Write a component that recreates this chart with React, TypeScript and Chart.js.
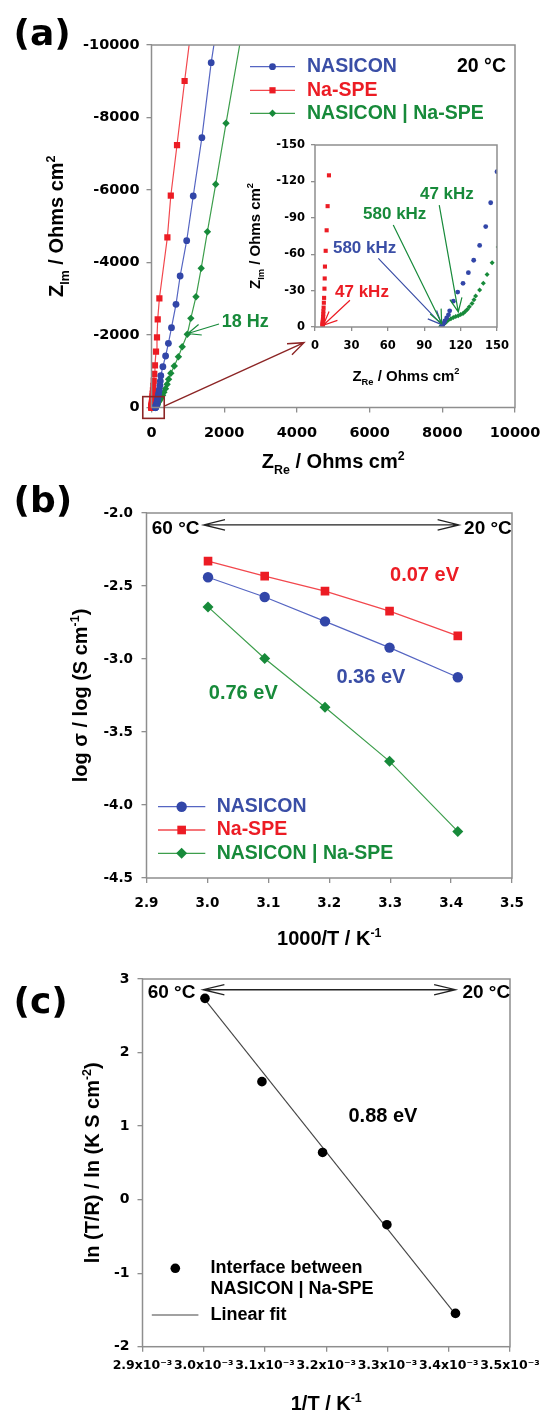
import React, { useEffect, useRef } from 'react';
import { Chart, registerables } from 'chart.js';

Chart.register(...registerables);

const SANS = '"Liberation Sans", Arial, Helvetica, sans-serif';
const TICK_FONT = '"DejaVu Sans", "Liberation Sans", sans-serif';
const FRAME = '#8e8e8e';
const BLUE = '#3246a8';
const BLUE_LINE = '#5565c2';
const BLUE_TEXT = '#3a4ea6';
const RED = '#ec1c24';
const RED_LINE = '#f2474d';
const GREEN = '#178a3a';
const GREEN_LINE = '#3d9e4c';
const DARK_RED = '#8c2525';

// ================= DATA =================
// (a) Nyquist plot at 20 °C  (Z_Re, Z_Im in Ohms cm2)
const naSpeRe = [6.3, 6.3, 6.3, 6.3, 6.4, 6.4, 6.5, 6.6, 6.7, 6.8, 6.9, 7.1, 7.3, 7.5, 7.8, 8.0, 8.2, 8.8, 9.6, 10.4, 11.5, 14, 17, 21, 26, 32, 40, 49, 61, 76, 95, 124, 151, 171, 217, 437, 531, 702, 911, 1190];
const naSpeIm = [-0.6, -1.2, -1.9, -2.6, -3.4, -4.3, -5.4, -6.8, -8.5, -10.5, -13, -16, -20, -24, -31.6, -40, -49.8, -62.8, -79.7, -99.6, -125, -156, -195, -244, -305, -381, -476, -595, -744, -930, -1163, -1540, -1936, -2433, -3012, -4695, -5843, -7241, -9007, -11250];

const nasiconRe = [104.5, 105, 106, 107, 108.5, 110, 111, 114, 117.6, 122, 126.4, 130.8, 135.7, 140.7, 144.8, 150, 156, 163, 172, 183, 196, 212, 232, 243, 256, 313, 388, 465, 550, 674, 788, 968, 1148, 1386, 1642, 1870];
const nasiconIm = [-0.5, -1.5, -3, -5, -7.5, -10, -13.3, -21.3, -28.8, -36, -44.8, -55, -67.2, -82.8, -102.4, -128, -160, -200, -250, -312, -390, -488, -610, -730, -877, -1126, -1421, -1771, -2202, -2847, -3628, -4601, -5834, -7443, -9512, -11000];

const interfaceRe = [103.5, 104.5, 106, 107.5, 108.5, 110, 112, 114, 116, 118, 120, 122, 123.6, 125.5, 127.2, 129.4, 131, 132.4, 135.7, 138.7, 141.8, 146, 151, 157, 165, 180, 205, 235, 270, 305, 340, 385, 430, 470, 531, 627, 740, 845, 985, 1082, 1224, 1367, 1538, 1766, 2050, 2600];
const interfaceIm = [-0.5, -1.5, -2.5, -3.5, -4.8, -5.8, -6.8, -7.8, -8.6, -9.3, -10.2, -11.2, -12.5, -14.5, -16.6, -19.4, -22.4, -25.5, -30.5, -36, -43.2, -52.9, -66, -82, -105, -135, -170, -215, -270, -340, -420, -520, -640, -780, -943, -1145, -1401, -1677, -2020, -2460, -3057, -3840, -4850, -6157, -7840, -11000];

// (b) Arrhenius plot
const invT1000 = [3.001, 3.094, 3.193, 3.299, 3.411];
const logNasicon = [-2.44, -2.575, -2.742, -2.922, -3.125];
const logNaSpe = [-2.33, -2.432, -2.535, -2.672, -2.842];
const logInterface = [-2.643, -2.997, -3.331, -3.701, -4.181];

// (c) interface
const invT = [3.002e-3, 3.095e-3, 3.194e-3, 3.299e-3, 3.411e-3];
const lnTR = [2.737, 1.604, 0.641, -0.341, -1.547];
const fitInvT = [3.002e-3, 3.411e-3];
const fitLnTR = [2.72, -1.56];

// Annotations (data coordinates)
const zoomBox = { re: [-240, 350], im: [-300, 300] };
const zoomArrow = { from: [352, -41], to: [4195, -1788] };
const hz18 = { text: '18 Hz', at: [1931, -2367], from: [1857, -2303], to: [1000, -2040] };
const insetNotes = [
  { text: '47 kHz', color: RED, at: [16.5, -29], from: [28.8, -22], to: [6.8, -1.4] },
  { text: '580 kHz', color: BLUE_TEXT, at: [14.8, -65], from: [52.2, -56.5], to: [104.4, -2] },
  { text: '580 kHz', color: GREEN, at: [39.6, -93], from: [64.5, -84], to: [104.4, -2.8] },
  { text: '47 kHz', color: GREEN, at: [86.5, -109.6], from: [102.4, -100.5], to: [118.1, -12.4] },
];
const notesB = [
  { text: '0.07 eV', color: RED, at: [3.2998, -2.425] },
  { text: '0.36 eV', color: BLUE_TEXT, at: [3.2118, -3.125] },
  { text: '0.76 eV', color: GREEN, at: [3.0023, -3.237] },
];
const tempB = { left: [2.9087, -2.105], right: [3.4213, -2.105], a0: [2.9938, -2.082], a1: [3.413, -2.082] };
const tempC = { left: [2.9085e-3, 2.818], right: [3.4223e-3, 2.818], a0: [2.9988e-3, 2.854], a1: [3.411e-3, 2.854] };
const noteC = { text: '0.88 eV', at: [3.2363e-3, 1.127] };

// ================= HELPERS =================
const pts = (xs: number[], ys: number[]) => xs.map((x, i) => ({ x, y: ys[i] }));

function axisX(min: number, max: number, step: number, size: number, pad: number, h: number, cb: (v: number) => string, tickLen = 5) {
  return {
    type: 'linear', position: 'bottom', min, max,
    ticks: { stepSize: step, autoSkip: false, maxRotation: 0, minRotation: 0, padding: pad, color: '#000', font: { family: TICK_FONT, size, weight: 'bold' }, callback: (v: any) => cb(Number(v)) },
    grid: { display: true, drawOnChartArea: false, drawTicks: true, tickLength: tickLen, color: FRAME, lineWidth: 1.3 },
    border: { display: false },
    title: { display: false },
    afterFit: (s: any) => { s.height = h; s.paddingLeft = 0; s.paddingRight = 0; s.paddingTop = 0; s.paddingBottom = 0; },
  };
}
function axisY(min: number, max: number, step: number, size: number, pad: number, w: number, cb: (v: number) => string, reverse = false, tickLen = 5) {
  return {
    type: 'linear', position: 'left', min, max, reverse,
    ticks: { stepSize: step, autoSkip: false, padding: pad, color: '#000', font: { family: TICK_FONT, size, weight: 'bold' }, callback: (v: any) => cb(Number(v)) },
    grid: { display: true, drawOnChartArea: false, drawTicks: true, tickLength: tickLen, color: FRAME, lineWidth: 1.3 },
    border: { display: false },
    title: { display: false },
    afterFit: (s: any) => { s.width = w; s.paddingLeft = 0; s.paddingRight = 0; s.paddingTop = 0; s.paddingBottom = 0; },
  };
}

function frame(ctx: any, a: any) {
  ctx.save();
  ctx.strokeStyle = FRAME;
  ctx.lineWidth = 1.5;
  ctx.strokeRect(a.left, a.top, a.right - a.left, a.bottom - a.top);
  ctx.restore();
}
function txt(ctx: any, s: string, x: number, y: number, size: number, color: string, align = 'left') {
  ctx.save();
  ctx.font = `bold ${size}px ${SANS}`;
  ctx.fillStyle = color;
  ctx.textAlign = align;
  ctx.textBaseline = 'middle';
  ctx.fillText(s, x, y);
  ctx.restore();
}
function panelLabel(ctx: any, s: string, x: number, baseline: number) {
  ctx.save();
  ctx.font = `bold 36px ${TICK_FONT}`;
  ctx.fillStyle = '#000';
  ctx.textAlign = 'left';
  ctx.textBaseline = 'alphabetic';
  ctx.fillText(s, x, baseline);
  ctx.restore();
}
type Seg = [string, number];
function richText(ctx: any, segs: Seg[], x: number, y: number, size: number, rotate = false) {
  ctx.save();
  ctx.fillStyle = '#000';
  ctx.textAlign = 'left';
  ctx.textBaseline = 'alphabetic';
  const fN = `bold ${size}px ${SANS}`;
  const fS = `bold ${size * 0.62}px ${SANS}`;
  let w = 0;
  for (const [t, k] of segs) { ctx.font = k ? fS : fN; w += ctx.measureText(t).width; }
  ctx.translate(x, y);
  if (rotate) ctx.rotate(-Math.PI / 2);
  let cx = -w / 2;
  for (const [t, k] of segs) {
    ctx.font = k ? fS : fN;
    const dy = k === -1 ? size * 0.28 : k === 1 ? -size * 0.42 : 0;
    ctx.fillText(t, cx, dy);
    cx += ctx.measureText(t).width;
  }
  ctx.restore();
}
function arrow(ctx: any, x1: number, y1: number, x2: number, y2: number, head: number, ang: number, color: string, lw: number, both = false) {
  ctx.save();
  ctx.strokeStyle = color;
  ctx.lineWidth = lw;
  ctx.beginPath();
  ctx.moveTo(x1, y1);
  ctx.lineTo(x2, y2);
  const hd = (tx: number, ty: number, fx: number, fy: number) => {
    const a = Math.atan2(ty - fy, tx - fx);
    ctx.moveTo(tx - head * Math.cos(a - ang), ty - head * Math.sin(a - ang));
    ctx.lineTo(tx, ty);
    ctx.lineTo(tx - head * Math.cos(a + ang), ty - head * Math.sin(a + ang));
  };
  hd(x2, y2, x1, y1);
  if (both) hd(x1, y1, x2, y2);
  ctx.stroke();
  ctx.restore();
}
function marker(ctx: any, style: string, x: number, y: number, r: number, color: string) {
  ctx.save();
  ctx.fillStyle = color;
  ctx.beginPath();
  if (style === 'circle') ctx.arc(x, y, r, 0, Math.PI * 2);
  else if (style === 'rect') { const s = r * Math.SQRT1_2; ctx.rect(x - s, y - s, 2 * s, 2 * s); }
  else { ctx.moveTo(x - r, y); ctx.lineTo(x, y - r); ctx.lineTo(x + r, y); ctx.lineTo(x, y + r); ctx.closePath(); }
  ctx.fill();
  ctx.restore();
}
function legendRow(ctx: any, x0: number, x1: number, y: number, line: string, style: string, r: number, color: string, label: string, tx: number, textColor: string, size: number) {
  ctx.save();
  ctx.strokeStyle = line;
  ctx.lineWidth = 1.3;
  ctx.beginPath();
  ctx.moveTo(x0, y);
  ctx.lineTo(x1, y);
  ctx.stroke();
  ctx.restore();
  marker(ctx, style, (x0 + x1) / 2, y, r, color);
  txt(ctx, label, tx, y, size, textColor);
}

const baseOpts = (padding: any) => ({
  responsive: false,
  animation: false,
  events: [],
  layout: { padding },
  plugins: { legend: { display: false }, tooltip: { enabled: false } },
});

// ================= PANEL (a) =================
const clipA = { left: 6, bottom: 6, top: 0, right: 0 };
function cfgA(): any {
  const plugin = {
    id: 'panelA',
    afterDraw(chart: any) {
      const { ctx, chartArea: a, scales } = chart;
      const X = (v: number) => scales.x.getPixelForValue(v);
      const Y = (v: number) => scales.y.getPixelForValue(v);
      frame(ctx, a);
      panelLabel(ctx, '(a)', 13.5, 45);
      richText(ctx, [['Z', 0], ['Im', -1], [' / Ohms cm', 0], ['2', 1]], 63, (a.top + a.bottom) / 2, 20, true);
      richText(ctx, [['Z', 0], ['Re', -1], [' / Ohms cm', 0], ['2', 1]], (a.left + a.right) / 2, 468, 20);
      legendRow(ctx, 250, 295, 66.7, BLUE_LINE, 'circle', 3.4, BLUE, 'NASICON', 307, BLUE_TEXT, 19.5);
      legendRow(ctx, 250, 295, 90.3, RED_LINE, 'rect', 4.4, RED, 'Na-SPE', 307, RED, 19.5);
      legendRow(ctx, 250, 295, 113.3, GREEN_LINE, 'rectRot', 3.7, GREEN, 'NASICON | Na-SPE', 307, GREEN, 19.5);
      txt(ctx, '20 °C', 457, 66.7, 19.5, '#000');
      // zoom box + arrow to inset
      ctx.save();
      ctx.strokeStyle = DARK_RED;
      ctx.lineWidth = 1.6;
      const bx0 = X(zoomBox.re[0]), bx1 = X(zoomBox.re[1]);
      const by0 = Y(zoomBox.im[0]), by1 = Y(zoomBox.im[1]);
      ctx.strokeRect(bx0, Math.min(by0, by1), bx1 - bx0, Math.abs(by1 - by0));
      ctx.restore();
      arrow(ctx, X(zoomArrow.from[0]), Y(zoomArrow.from[1]), X(zoomArrow.to[0]), Y(zoomArrow.to[1]), 17, 0.36, DARK_RED, 1.4);
      // 18 Hz
      txt(ctx, hz18.text, X(hz18.at[0]), Y(hz18.at[1]), 18, GREEN);
      arrow(ctx, X(hz18.from[0]), Y(hz18.from[1]), X(hz18.to[0]), Y(hz18.to[1]), 14, 0.4, GREEN, 1.2);
    },
  };
  return {
    type: 'scatter',
    data: {
      datasets: [
        { label: 'NASICON', data: pts(nasiconRe, nasiconIm), showLine: true, borderColor: BLUE_LINE, borderWidth: 1.2, pointStyle: 'circle', pointRadius: 3.4, pointBackgroundColor: BLUE, pointBorderWidth: 0, clip: clipA },
        { label: 'Na-SPE', data: pts(naSpeRe, naSpeIm), showLine: true, borderColor: RED_LINE, borderWidth: 1.2, pointStyle: 'rect', pointRadius: 4.4, pointBackgroundColor: RED, pointBorderWidth: 0, clip: clipA },
        { label: 'NASICON | Na-SPE', data: pts(interfaceRe, interfaceIm), showLine: true, borderColor: GREEN_LINE, borderWidth: 1.2, pointStyle: 'rectRot', pointRadius: 3.7, pointBackgroundColor: GREEN, pointBorderWidth: 0, clip: clipA },
      ],
    },
    options: {
      ...baseOpts({ left: 0, top: 45, right: 26, bottom: 0 }),
      scales: {
        x: axisX(0, 10000, 2000, 14.5, 12, 72.5, (v) => String(v)),
        y: axisY(-10000, 0, 2000, 14.5, 7, 151.5, (v) => String(v), true),
      },
    },
    plugins: [plugin],
  };
}

// ================= INSET =================
function cfgInset(): any {
  const plugin = {
    id: 'inset',
    afterDraw(chart: any) {
      const { ctx, chartArea: a, scales } = chart;
      const X = (v: number) => scales.x.getPixelForValue(v);
      const Y = (v: number) => scales.y.getPixelForValue(v);
      frame(ctx, a);
      richText(ctx, [['Z', 0], ['Im', -1], [' / Ohms cm', 0], ['2', 1]], 24.5, (a.top + a.bottom) / 2, 15, true);
      richText(ctx, [['Z', 0], ['Re', -1], [' / Ohms cm', 0], ['2', 1]], (a.left + a.right) / 2, 245.5, 15);
      for (const n of insetNotes) {
        txt(ctx, n.text, X(n.at[0]), Y(n.at[1]), 17, n.color);
        arrow(ctx, X(n.from[0]), Y(n.from[1]), X(n.to[0]), Y(n.to[1]), 15, 0.42, n.color, 1.2);
      }
    },
  };
  return {
    type: 'scatter',
    data: {
      datasets: [
        { label: 'NASICON', data: pts(nasiconRe, nasiconIm), showLine: false, pointStyle: 'circle', pointRadius: 2.4, pointBackgroundColor: BLUE, pointBorderWidth: 0 },
        { label: 'Na-SPE', data: pts(naSpeRe, naSpeIm), showLine: false, pointStyle: 'rect', pointRadius: 2.9, pointBackgroundColor: RED, pointBorderWidth: 0 },
        { label: 'NASICON | Na-SPE', data: pts(interfaceRe, interfaceIm), showLine: false, pointStyle: 'rectRot', pointRadius: 2.5, pointBackgroundColor: GREEN, pointBorderWidth: 0 },
      ],
    },
    options: {
      ...baseOpts({ left: 0, top: 10, right: 28, bottom: 0 }),
      scales: {
        x: axisX(0, 150, 30, 11.5, 8, 63, (v) => String(v), 4),
        y: axisY(-150, 0, 30, 11.5, 6, 80, (v) => String(v), true, 4),
      },
    },
    plugins: [plugin],
  };
}

// ================= PANEL (b) =================
function cfgB(): any {
  const plugin = {
    id: 'panelB',
    afterDraw(chart: any) {
      const { ctx, chartArea: a, scales } = chart;
      const X = (v: number) => scales.x.getPixelForValue(v);
      const Y = (v: number) => scales.y.getPixelForValue(v);
      frame(ctx, a);
      panelLabel(ctx, '(b)', 13.5, 32);
      richText(ctx, [['log σ / log (S cm', 0], ['-1', 1], [')', 0]], 87.2, (a.top + a.bottom) / 2, 20, true);
      richText(ctx, [['1000/T / K', 0], ['-1', 1]], (a.left + a.right) / 2, 465, 20);
      txt(ctx, '60 °C', X(tempB.left[0]), Y(tempB.left[1]), 19, '#000');
      txt(ctx, '20 °C', X(tempB.right[0]), Y(tempB.right[1]), 19, '#000');
      arrow(ctx, X(tempB.a0[0]), Y(tempB.a0[1]), X(tempB.a1[0]), Y(tempB.a1[1]), 22, 0.24, '#222', 1.3, true);
      for (const n of notesB) txt(ctx, n.text, X(n.at[0]), Y(n.at[1]), 20, n.color);
      legendRow(ctx, 158, 205.3, 326.7, BLUE_LINE, 'circle', 5.2, BLUE, 'NASICON', 216.7, BLUE_TEXT, 19.5);
      legendRow(ctx, 158, 205.3, 350, RED_LINE, 'rect', 6.1, RED, 'Na-SPE', 216.7, RED, 19.5);
      legendRow(ctx, 158, 205.3, 373.3, GREEN_LINE, 'rectRot', 5.5, GREEN, 'NASICON | Na-SPE', 216.7, GREEN, 19.5);
    },
  };
  return {
    type: 'scatter',
    data: {
      datasets: [
        { label: 'NASICON', data: pts(invT1000, logNasicon), showLine: true, borderColor: BLUE_LINE, borderWidth: 1.2, pointStyle: 'circle', pointRadius: 5.2, pointBackgroundColor: BLUE, pointBorderWidth: 0 },
        { label: 'Na-SPE', data: pts(invT1000, logNaSpe), showLine: true, borderColor: RED_LINE, borderWidth: 1.2, pointStyle: 'rect', pointRadius: 6.1, pointBackgroundColor: RED, pointBorderWidth: 0 },
        { label: 'NASICON | Na-SPE', data: pts(invT1000, logInterface), showLine: true, borderColor: GREEN_LINE, borderWidth: 1.2, pointStyle: 'rectRot', pointRadius: 5.5, pointBackgroundColor: GREEN, pointBorderWidth: 0 },
      ],
    },
    options: {
      ...baseOpts({ left: 0, top: 33, right: 29, bottom: 0 }),
      scales: {
        x: axisX(2.9, 3.5, 0.1, 13.5, 12, 82, (v) => v.toFixed(1)),
        y: axisY(-4.5, -2.0, 0.5, 13.5, 8.5, 146.5, (v) => v.toFixed(1)),
      },
    },
    plugins: [plugin],
  };
}

// ================= PANEL (c) =================
function cfgC(): any {
  const plugin = {
    id: 'panelC',
    afterDraw(chart: any) {
      const { ctx, chartArea: a, scales } = chart;
      const X = (v: number) => scales.x.getPixelForValue(v);
      const Y = (v: number) => scales.y.getPixelForValue(v);
      frame(ctx, a);
      panelLabel(ctx, '(c)', 13.5, 53);
      richText(ctx, [['ln (T/R) / ln (K S cm', 0], ['-2', 1], [')', 0]], 99.2, (a.top + a.bottom) / 2, 20, true);
      richText(ctx, [['1/T / K', 0], ['-1', 1]], (a.left + a.right) / 2, 450, 20);
      txt(ctx, '60 °C', X(tempC.left[0]), Y(tempC.left[1]), 19, '#000');
      txt(ctx, '20 °C', X(tempC.right[0]), Y(tempC.right[1]), 19, '#000');
      arrow(ctx, X(tempC.a0[0]), Y(tempC.a0[1]), X(tempC.a1[0]), Y(tempC.a1[1]), 22, 0.24, '#222', 1.3, true);
      txt(ctx, noteC.text, X(noteC.at[0]), Y(noteC.at[1]), 20, '#000');
      marker(ctx, 'circle', 175.3, 308.3, 4.8, '#000');
      txt(ctx, 'Interface between', 210.5, 308.3, 18, '#000');
      txt(ctx, 'NASICON | Na-SPE', 210.5, 329.3, 18, '#000');
      ctx.save();
      ctx.strokeStyle = '#444';
      ctx.lineWidth = 1.1;
      ctx.beginPath();
      ctx.moveTo(151.8, 355);
      ctx.lineTo(198.4, 355);
      ctx.stroke();
      ctx.restore();
      txt(ctx, 'Linear fit', 210.5, 355, 18, '#000');
    },
  };
  return {
    type: 'scatter',
    data: {
      datasets: [
        { label: 'Interface between NASICON | Na-SPE', data: pts(invT, lnTR), showLine: false, pointStyle: 'circle', pointRadius: 4.8, pointBackgroundColor: '#000', pointBorderWidth: 0 },
        { label: 'Linear fit', data: pts(fitInvT, fitLnTR), showLine: true, borderColor: '#444', borderWidth: 1.1, pointRadius: 0 },
      ],
    },
    options: {
      ...baseOpts({ left: 0, top: 19, right: 31, bottom: 0 }),
      scales: {
        x: axisX(0.0029, 0.0035, 0.0001, 12.5, 7, 66.3, (v) => `${(v * 1000).toFixed(1)}x10⁻³`),
        y: axisY(-2, 3, 1, 14, 8, 142.5, (v) => String(Math.round(v))),
      },
    },
    plugins: [plugin],
  };
}

export default function App() {
  const refA = useRef<HTMLCanvasElement>(null);
  const refI = useRef<HTMLCanvasElement>(null);
  const refB = useRef<HTMLCanvasElement>(null);
  const refC = useRef<HTMLCanvasElement>(null);
  useEffect(() => {
    const charts = [
      new Chart(refA.current as any, cfgA()),
      new Chart(refI.current as any, cfgInset()),
      new Chart(refB.current as any, cfgB()),
      new Chart(refC.current as any, cfgC()),
    ];
    return () => charts.forEach((c) => c.destroy());
  }, []);
  const cs = (l: number, t: number, w: number, h: number): any => ({ position: 'absolute', left: l, top: t, width: w, height: h, display: 'block' });
  return (
    <div style={{ position: 'absolute', left: 0, top: 0, width: 541, height: 1413, background: '#fff', overflow: 'hidden' }}>
      <canvas ref={refA} width={541} height={480} style={cs(0, 0, 541, 480)} />
      <canvas ref={refI} width={290} height={255} style={cs(235, 135, 290, 255)} />
      <canvas ref={refB} width={541} height={480} style={cs(0, 480, 541, 480)} />
      <canvas ref={refC} width={541} height={453} style={cs(0, 960, 541, 453)} />
    </div>
  );
}
